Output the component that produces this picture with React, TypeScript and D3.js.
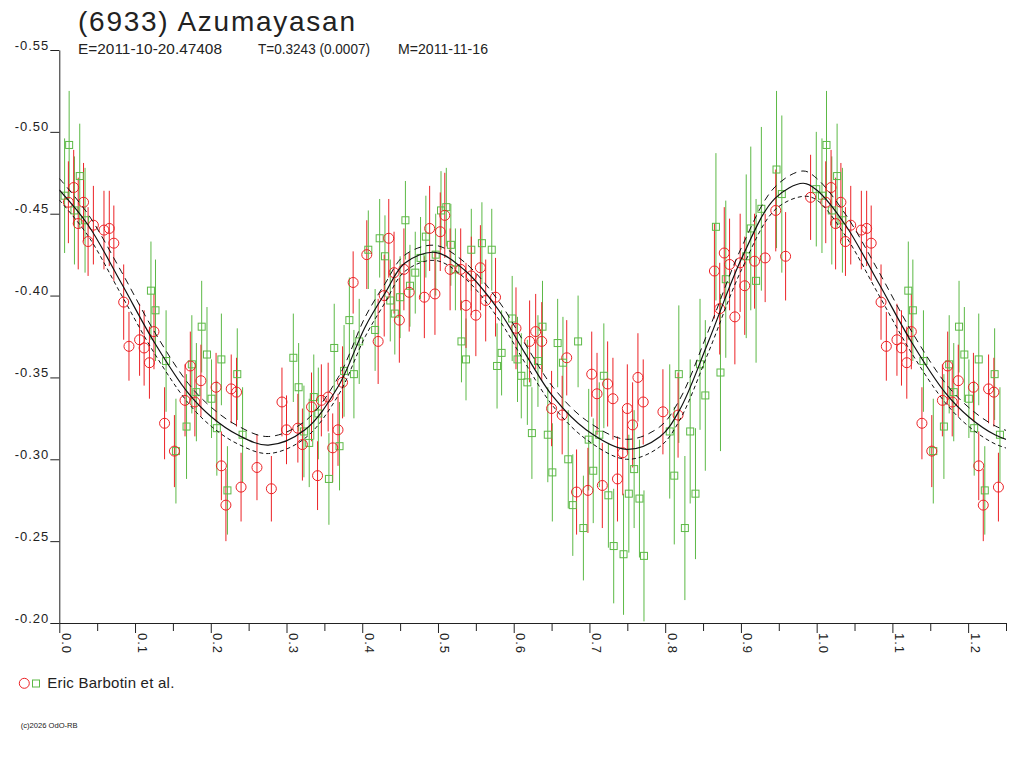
import { useEffect, useRef } from "react";
import * as d3 from "d3";

// red circles: phase, magnitude, error
const redPhase = [0.012, 0.019, 0.025, 0.032, 0.038, 0.045, 0.059, 0.066, 0.072, 0.085,
  0.092, 0.106, 0.112, 0.119, 0.125, 0.139, 0.152, 0.166, 0.173, 0.179,
  0.187, 0.207, 0.227, 0.234, 0.214, 0.220, 0.240, 0.261, 0.280, 0.294,
  0.300, 0.315, 0.321, 0.333, 0.346, 0.355, 0.341, 0.361, 0.368, 0.374,
  0.388, 0.406, 0.421, 0.429, 0.435, 0.442, 0.449, 0.455, 0.462, 0.482,
  0.489, 0.496, 0.503, 0.509, 0.516, 0.530, 0.537, 0.544, 0.550, 0.556,
  0.563, 0.576, 0.603, 0.621, 0.629, 0.637, 0.650, 0.664, 0.670, 0.683,
  0.698, 0.703, 0.710, 0.717, 0.724, 0.731, 0.737, 0.744, 0.750, 0.757,
  0.764, 0.771, 0.797, 0.817, 0.865, 0.872, 0.878, 0.885, 0.892, 0.899,
  0.905, 0.918, 0.932, 0.946, 0.959, 0.992];
const redMag = [-0.457, -0.466, -0.444, -0.457, -0.433, -0.443, -0.440, -0.441, -0.432, -0.396,
  -0.369, -0.373, -0.368, -0.359, -0.378, -0.322, -0.305, -0.336, -0.357, -0.335,
  -0.348, -0.344, -0.343, -0.341, -0.296, -0.272, -0.283, -0.295, -0.282, -0.335,
  -0.318, -0.319, -0.309, -0.332, -0.336, -0.338, -0.290, -0.307, -0.318, -0.347,
  -0.408, -0.425, -0.372, -0.400, -0.435, -0.414, -0.385, -0.416, -0.402, -0.399,
  -0.441, -0.401, -0.439, -0.449, -0.416, -0.416, -0.394, -0.412, -0.388, -0.417,
  -0.397, -0.399, -0.380, -0.372, -0.378, -0.372, -0.331, -0.327, -0.362, -0.280,
  -0.281, -0.352, -0.340, -0.284, -0.346, -0.337, -0.288, -0.304, -0.331, -0.321,
  -0.350, -0.335, -0.329, -0.327, -0.415, -0.392, -0.426, -0.419, -0.387, -0.420,
  -0.406, -0.421, -0.423, -0.452, -0.424, -0.460];
const redErr = [0.025, 0.023, 0.028, 0.024, 0.021, 0.024, 0.024, 0.023, 0.023, 0.023,
  0.021, 0.022, 0.023, 0.022, 0.023, 0.022, 0.022, 0.022, 0.021, 0.021,
  0.022, 0.021, 0.021, 0.021, 0.021, 0.022, 0.021, 0.020, 0.020, 0.021,
  0.021, 0.021, 0.022, 0.021, 0.022, 0.021, 0.021, 0.021, 0.022, 0.022,
  0.019, 0.021, 0.026, 0.025, 0.024, 0.025, 0.026, 0.025, 0.024, 0.025,
  0.026, 0.025, 0.024, 0.026, 0.025, 0.025, 0.026, 0.024, 0.025, 0.026,
  0.025, 0.024, 0.025, 0.025, 0.023, 0.024, 0.023, 0.024, 0.023, 0.026,
  0.026, 0.026, 0.025, 0.026, 0.026, 0.025, 0.026, 0.026, 0.027, 0.026,
  0.027, 0.026, 0.026, 0.026, 0.029, 0.028, 0.028, 0.028, 0.029, 0.030,
  0.030, 0.029, 0.027, 0.025, 0.027, 0.026];

// green squares: phase, magnitude, error
const greenPhase = [0.013, 0.007, 0.027, 0.020, 0.034, 0.121, 0.127, 0.141, 0.154, 0.168,
  0.175, 0.188, 0.195, 0.181, 0.201, 0.214, 0.235, 0.208, 0.242, 0.222,
  0.309, 0.316, 0.336, 0.323, 0.330, 0.342, 0.356, 0.363, 0.376, 0.370,
  0.383, 0.389, 0.396, 0.408, 0.417, 0.423, 0.430, 0.437, 0.443, 0.450,
  0.457, 0.463, 0.470, 0.477, 0.484, 0.497, 0.504, 0.511, 0.517, 0.523,
  0.531, 0.537, 0.544, 0.558, 0.571, 0.578, 0.584, 0.598, 0.605, 0.610,
  0.618, 0.638, 0.632, 0.624, 0.658, 0.665, 0.685, 0.645, 0.651, 0.672,
  0.678, 0.692, 0.699, 0.705, 0.713, 0.719, 0.725, 0.732, 0.745, 0.752,
  0.759, 0.766, 0.772, 0.806, 0.812, 0.818, 0.826, 0.833, 0.840, 0.846,
  0.853, 0.867, 0.873, 0.880, 0.907, 0.913, 0.920, 0.927, 0.947, 0.954,
  0.9995];
const greenMag = [-0.492, -0.461, -0.473, -0.452, -0.446, -0.403, -0.391, -0.360, -0.305, -0.320,
  -0.358, -0.381, -0.364, -0.341, -0.337, -0.361, -0.352, -0.319, -0.315, -0.281,
  -0.362, -0.344, -0.338, -0.317, -0.310, -0.328, -0.288, -0.368, -0.354, -0.308,
  -0.385, -0.352, -0.372, -0.428, -0.379, -0.435, -0.424, -0.397, -0.389, -0.399,
  -0.446, -0.406, -0.414, -0.423, -0.436, -0.425, -0.452, -0.454, -0.431, -0.416,
  -0.372, -0.361, -0.428, -0.432, -0.428, -0.357, -0.365, -0.386, -0.361, -0.351,
  -0.347, -0.381, -0.360, -0.316, -0.371, -0.359, -0.372, -0.315, -0.292, -0.300,
  -0.272, -0.258, -0.312, -0.293, -0.315, -0.351, -0.278, -0.247, -0.242, -0.279,
  -0.294, -0.276, -0.241, -0.317, -0.290, -0.352, -0.258, -0.317, -0.279, -0.358,
  -0.339, -0.442, -0.353, -0.410, -0.424, -0.441, -0.409, -0.453, -0.477, -0.462,
  -0.465];
const greenErr = [0.033, 0.035, 0.032, 0.033, 0.032, 0.030, 0.031, 0.031, 0.032, 0.032,
  0.030, 0.028, 0.029, 0.030, 0.024, 0.028, 0.028, 0.029, 0.029, 0.027,
  0.027, 0.027, 0.026, 0.028, 0.027, 0.028, 0.028, 0.027, 0.028, 0.027,
  0.026, 0.027, 0.026, 0.024, 0.025, 0.024, 0.025, 0.025, 0.025, 0.025,
  0.024, 0.025, 0.025, 0.025, 0.025, 0.025, 0.024, 0.024, 0.025, 0.025,
  0.025, 0.025, 0.025, 0.025, 0.025, 0.026, 0.026, 0.026, 0.026, 0.026,
  0.026, 0.028, 0.028, 0.028, 0.027, 0.028, 0.028, 0.029, 0.030, 0.030,
  0.031, 0.032, 0.031, 0.032, 0.032, 0.032, 0.032, 0.035, 0.037, 0.036,
  0.036, 0.036, 0.040, 0.041, 0.042, 0.042, 0.044, 0.044, 0.040, 0.040,
  0.046, 0.045, 0.048, 0.048, 0.050, 0.050, 0.050, 0.050, 0.048, 0.048,
  0.035];

// fitted lightcurve and its two envelopes, read at these phases
const fitPhase = [0.000, 0.038, 0.082, 0.126, 0.170, 0.201, 0.236, 0.276, 0.324, 0.368,
  0.404, 0.430, 0.456, 0.496, 0.535, 0.580, 0.615, 0.652, 0.696, 0.749,
  0.793, 0.819, 0.857, 0.901, 0.945, 0.982];
const fitMag = [-0.4645, -0.4431, -0.4075, -0.3710, -0.3405, -0.3258, -0.3148, -0.3087, -0.3179, -0.3443,
  -0.3810, -0.4014, -0.4197, -0.4264, -0.4156, -0.3912, -0.3647, -0.3382, -0.3179, -0.3061,
  -0.3138, -0.3301, -0.3718, -0.4228, -0.4594, -0.4686];
const fitUpper = [-0.4716, -0.4497, -0.4146, -0.3776, -0.3465, -0.3316, -0.3203, -0.3139, -0.3231, -0.3498,
  -0.3870, -0.4072, -0.4247, -0.4307, -0.4204, -0.3967, -0.3705, -0.3440, -0.3237, -0.3122,
  -0.3199, -0.3364, -0.3784, -0.4296, -0.4664, -0.4761];
const fitLower = [-0.4584, -0.4365, -0.4004, -0.3644, -0.3345, -0.3200, -0.3093, -0.3035, -0.3127, -0.3388,
  -0.3750, -0.3956, -0.4147, -0.4215, -0.4108, -0.3857, -0.3589, -0.3324, -0.3121, -0.3000,
  -0.3077, -0.3238, -0.3652, -0.4160, -0.4524, -0.4606];

const xTicks = [0.0, 0.1, 0.2, 0.3, 0.4, 0.5, 0.6, 0.7, 0.8, 0.9, 1.0, 1.1, 1.2];
const xMinorTicks = [0.05, 0.15, 0.25, 0.35, 0.45, 0.55, 0.65, 0.75, 0.85, 0.95, 1.05, 1.15, 1.25];
const yTicks = [-0.55, -0.5, -0.45, -0.4, -0.35, -0.3, -0.25, -0.2];

const RED = "#ec2226";
const GREEN = "#5cb946";
const FONT = "'Liberation Sans', Arial, sans-serif";

type Obs = { p: number; m: number; e: number };

// phases below 0.25 are shown again after 1.0
function wrap(ph: number[], mag: number[], err: number[]): Obs[] {
  const out: Obs[] = [];
  ph.forEach((p, i) => {
    out.push({ p, m: mag[i], e: err[i] });
    if (p + 1 <= 1.25) out.push({ p: p + 1, m: mag[i], e: err[i] });
  });
  return out;
}

export default function App() {
  const ref = useRef<SVGSVGElement>(null);

  useEffect(() => {
    if (!ref.current) return;
    const svg = d3.select(ref.current);
    svg.selectAll("*").remove();

    const x = d3.scaleLinear().domain([0, 1.25]).range([59.3, 1006]);
    const y = d3.scaleLinear().domain([-0.55, -0.2]).range([50, 623]);

    svg.append("defs").append("clipPath").attr("id", "plot")
      .append("rect").attr("x", 59.3).attr("y", 50).attr("width", 1006 - 59.3).attr("height", 573);

    // title
    svg.append("text").attr("x", 78).attr("y", 31)
      .attr("font-family", FONT).attr("font-size", 28).attr("fill", "#222")
      .attr("textLength", 277).attr("lengthAdjust", "spacing")
      .text("(6933) Azumayasan");
    const sub = [
      { t: "E=2011-10-20.47408", x: 78, w: 144 },
      { t: "T=0.3243 (0.0007)", x: 258, w: 112 },
      { t: "M=2011-11-16", x: 398, w: 90 },
    ];
    svg.selectAll(".sub").data(sub).join("text").attr("class", "sub")
      .attr("x", (d) => d.x).attr("y", 54.3)
      .attr("font-family", FONT).attr("font-size", 14).attr("fill", "#222")
      .attr("textLength", (d) => d.w).attr("lengthAdjust", "spacingAndGlyphs")
      .text((d) => d.t);

    // axes
    const gx = svg.append("g").attr("transform", `translate(0,${y(-0.2)})`)
      .call(d3.axisBottom(x).tickValues(xTicks).tickSize(10).tickSizeOuter(0)
        .tickFormat((d) => (d as number).toFixed(1)));
    gx.selectAll("text")
      .attr("transform", "rotate(90)")
      .attr("x", 10).attr("y", -2).attr("dy", null)
      .attr("text-anchor", "start")
      .attr("font-size", 13).attr("letter-spacing", 1).attr("fill", "#222");
    svg.append("g").attr("transform", `translate(0,${y(-0.2)})`)
      .call(d3.axisBottom(x).tickValues(xMinorTicks).tickSize(8).tickFormat(() => ""))
      .select(".domain").remove();

    const gy = svg.append("g").attr("transform", `translate(${x(0)},0)`)
      .call(d3.axisLeft(y).tickValues(yTicks).tickSize(9).tickSizeOuter(0)
        .tickFormat((d) => (d as number).toFixed(2)));
    gy.selectAll("text")
      .attr("x", -10).attr("dy", -1)
      .attr("font-size", 13).attr("letter-spacing", 1).attr("fill", "#222");

    svg.selectAll(".tick line, .domain").attr("stroke", "#222");
    svg.selectAll("g").attr("font-family", FONT);

    // observations
    const plot = svg.append("g");
    const red = wrap(redPhase, redMag, redErr);
    const green = wrap(greenPhase, greenMag, greenErr);

    plot.selectAll(".gbar").data(green).join("line").attr("class", "gbar")
      .attr("x1", (d) => x(d.p)).attr("x2", (d) => x(d.p))
      .attr("y1", (d) => y(d.m - d.e)).attr("y2", (d) => y(d.m + d.e))
      .attr("stroke", GREEN).attr("stroke-width", 1);
    plot.selectAll(".rbar").data(red).join("line").attr("class", "rbar")
      .attr("x1", (d) => x(d.p)).attr("x2", (d) => x(d.p))
      .attr("y1", (d) => y(d.m - d.e)).attr("y2", (d) => y(d.m + d.e))
      .attr("stroke", RED).attr("stroke-width", 1);
    plot.selectAll(".gsym").data(green).join("rect").attr("class", "gsym")
      .attr("x", (d) => x(d.p) - 3.5).attr("y", (d) => y(d.m) - 3.5)
      .attr("width", 7).attr("height", 7)
      .attr("fill", "none").attr("stroke", GREEN).attr("stroke-width", 1);
    plot.selectAll(".rsym").data(red).join("circle").attr("class", "rsym")
      .attr("cx", (d) => x(d.p)).attr("cy", (d) => y(d.m)).attr("r", 5)
      .attr("fill", "none").attr("stroke", RED).attr("stroke-width", 1);

    // fitted curves
    const curve = (vals: number[]) => {
      const pts: [number, number][] = fitPhase.map((p, i) => [p, vals[i]]);
      fitPhase.forEach((p, i) => {
        if (p <= 0.28) pts.push([p + 1, vals[i]]);
      });
      return pts;
    };
    const line = d3.line<[number, number]>()
      .x((d) => x(d[0])).y((d) => y(d[1]))
      .curve(d3.curveCatmullRom.alpha(0.5));
    const curves = svg.append("g").attr("clip-path", "url(#plot)").attr("fill", "none");
    curves.append("path").attr("d", line(curve(fitUpper)))
      .attr("stroke", "#111").attr("stroke-width", 1).attr("stroke-dasharray", "7,5");
    curves.append("path").attr("d", line(curve(fitLower)))
      .attr("stroke", "#111").attr("stroke-width", 1).attr("stroke-dasharray", "4,3");
    curves.append("path").attr("d", line(curve(fitMag)))
      .attr("stroke", "#111").attr("stroke-width", 1.2);

    // legend
    svg.append("circle").attr("cx", 24.3).attr("cy", 683.3).attr("r", 5)
      .attr("fill", "none").attr("stroke", RED);
    svg.append("rect").attr("x", 32.5).attr("y", 680).attr("width", 7).attr("height", 7)
      .attr("fill", "none").attr("stroke", GREEN);
    svg.append("text").attr("x", 47.3).attr("y", 688.3)
      .attr("font-family", FONT).attr("font-size", 15).attr("fill", "#222")
      .attr("textLength", 127).attr("lengthAdjust", "spacing")
      .text("Eric Barbotin et al.");
    svg.append("text").attr("x", 20.7).attr("y", 728.3)
      .attr("font-family", FONT).attr("font-size", 8).attr("fill", "#222")
      .attr("textLength", 57).attr("lengthAdjust", "spacingAndGlyphs")
      .text("(c)2026 OdO-RB");
  }, []);

  return (
    <svg
      ref={ref}
      width={1024}
      height={768}
      style={{ position: "absolute", left: 0, top: 0, background: "#fff" }}
    />
  );
}
